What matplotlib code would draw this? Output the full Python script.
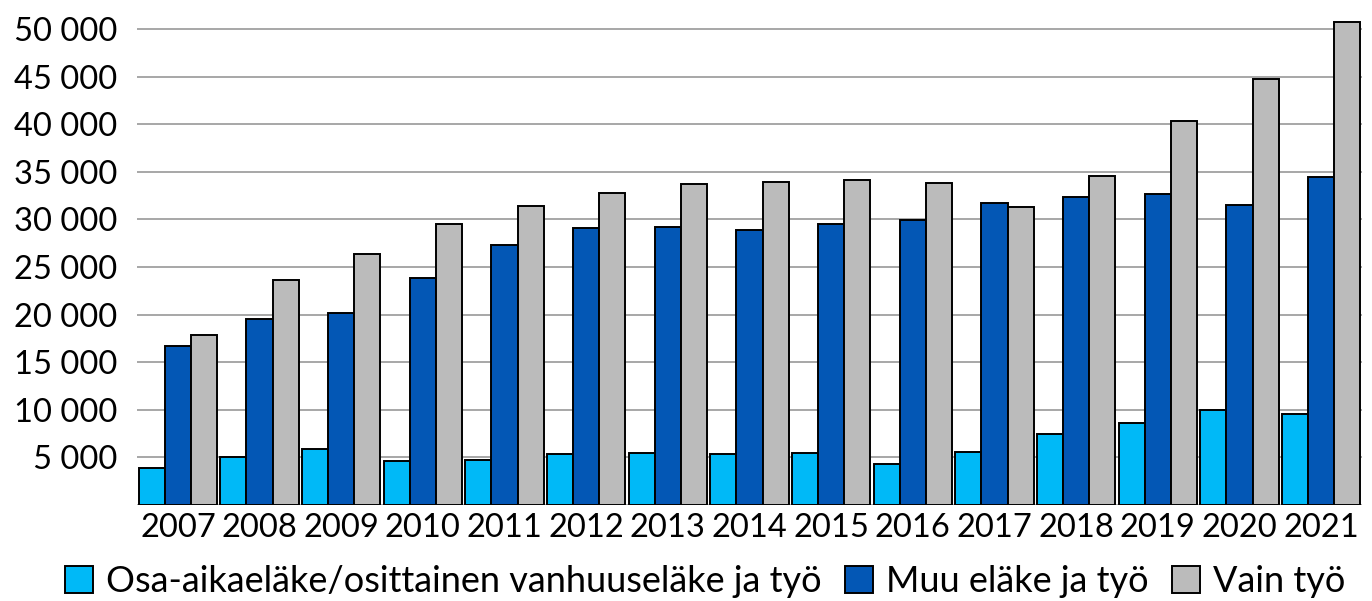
import matplotlib.pyplot as plt
import numpy as np

plt.rcParams["font.family"] = ["Lato", "DejaVu Sans"]

years = ["2007", "2008", "2009", "2010", "2011", "2012", "2013", "2014",
         "2015", "2016", "2017", "2018", "2019", "2020", "2021"]
osa_aika = [3900, 5070, 5880, 4620, 4690, 5320, 5430, 5360,
            5430, 4270, 5530, 7420, 8650, 10000, 9600]
muu_elake = [16700, 19500, 20200, 23800, 27300, 29060, 29200, 28900,
             29500, 29900, 31700, 32400, 32700, 31500, 34500]
vain_tyo = [17900, 23600, 26400, 29500, 31400, 32800, 33750, 33900,
            34100, 33850, 31300, 34600, 40300, 44700, 50700]

series_labels = ["Osa-aikaeläke/osittainen vanhuuseläke ja työ",
                 "Muu eläke ja työ", "Vain työ"]
colors = ["#00B9F7", "#0357B5", "#BBBBBB"]

fig = plt.figure(figsize=(13.72, 6.01), dpi=100)
ax = fig.add_axes([0.0999, 0.1597, 0.8928, 0.8395])

x = np.arange(len(years))
w = 0.32
for i, (vals, lab, col) in enumerate(zip([osa_aika, muu_elake, vain_tyo],
                                         series_labels, colors)):
    ax.bar(x + (i - 1) * w, vals, width=w, color=col, edgecolor="black",
           linewidth=1.4, label=lab, zorder=3)

ax.set_xlim(-0.5, len(years) - 0.5)
ax.set_ylim(0, 53000)
yt = np.arange(0, 50001, 5000)
ax.set_yticks(yt)
ax.set_yticklabels(["" if v == 0 else f"{v:,}".replace(",", " ") for v in yt])
ax.set_xticks(x)
ax.set_xticklabels(years)
ax.tick_params(axis="both", length=0, labelsize=23.5)
ax.tick_params(axis="y", pad=14)
ax.tick_params(axis="x", pad=6)
ax.grid(axis="y", color="#A0A0A0", linewidth=1.3, zorder=0)
for s in ax.spines.values():
    s.set_visible(False)

fig.legend(loc="center", bbox_to_anchor=(0.514, 0.032), ncol=3,
           frameon=False, fontsize=26, handlelength=0.78, handleheight=0.78,
           handletextpad=0.35, columnspacing=0.65, borderpad=0)

fig.savefig("out.png", dpi=100)
